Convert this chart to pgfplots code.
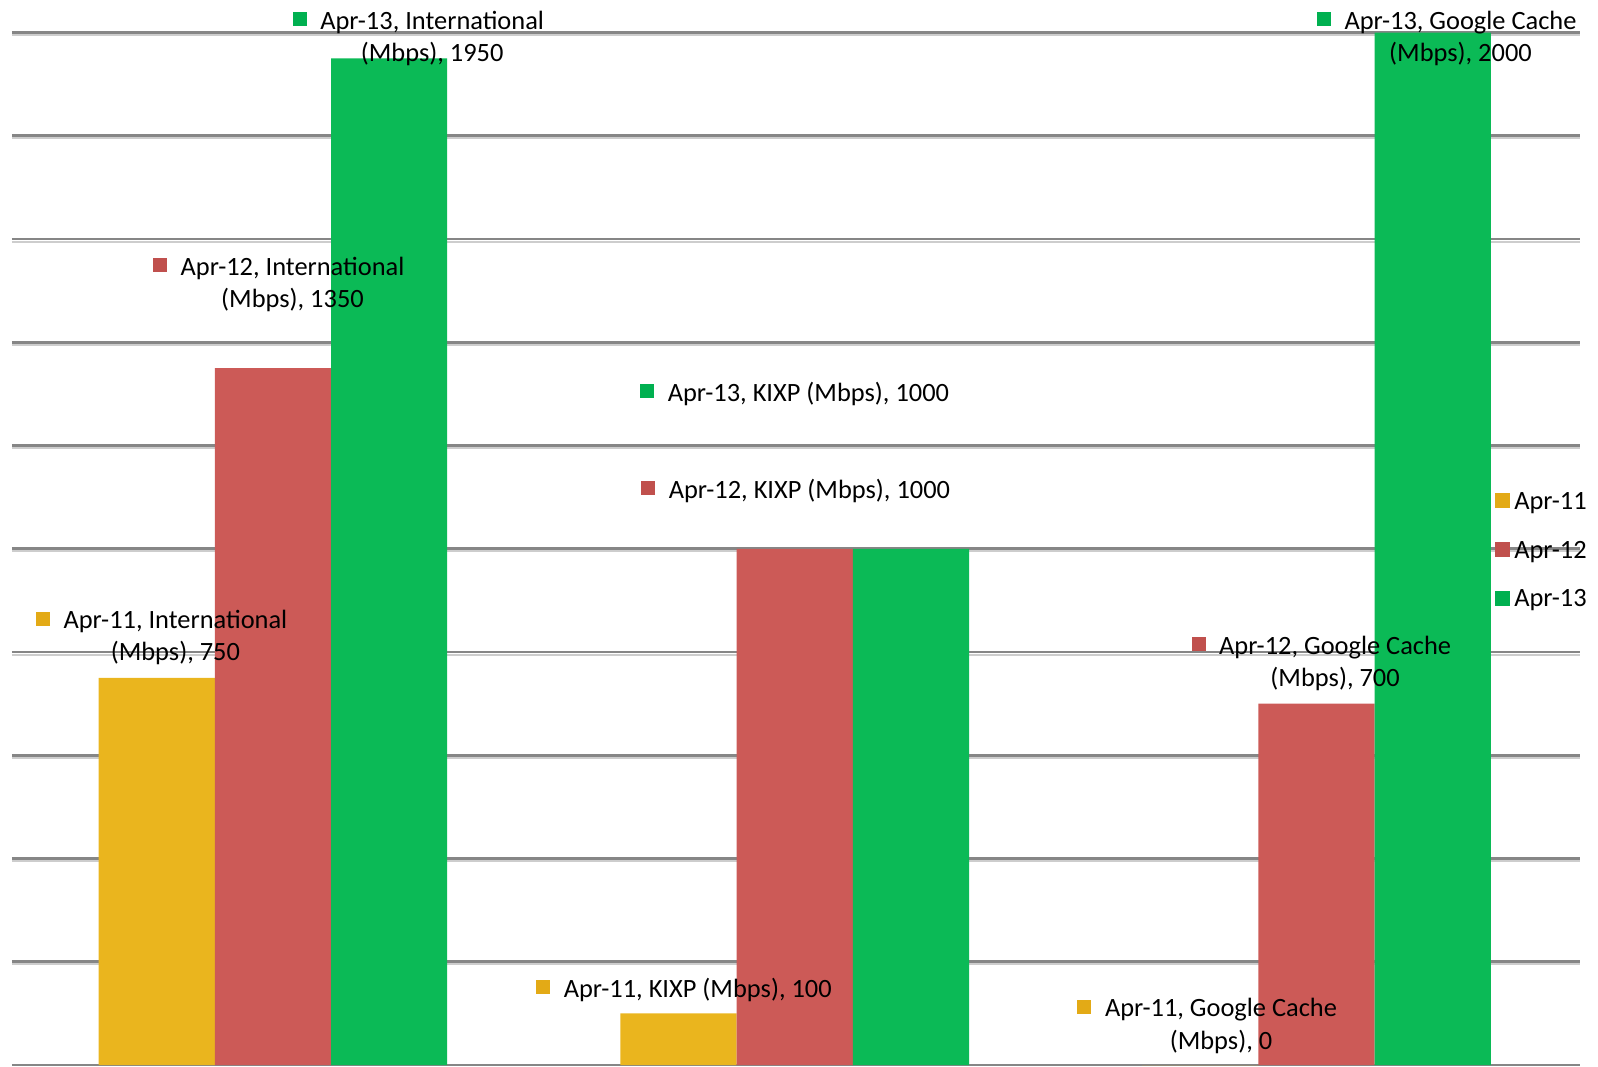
\documentclass[border=0pt]{standalone}
\usepackage{pgfplots}
\pgfplotsset{compat=1.18}
\usepackage{fontspec}
\setmainfont{Carlito}
\definecolor{bar11}{RGB}{234,181,30}
\definecolor{bar12}{RGB}{204,90,87}
\definecolor{bar13}{RGB}{11,186,86}
\definecolor{mk11}{RGB}{227,170,22}
\definecolor{mk12}{RGB}{192,80,77}
\definecolor{mk13}{RGB}{0,176,80}
\definecolor{gridc}{RGB}{134,134,134}
\definecolor{gridl}{RGB}{205,205,205}
\newcommand{\lab}[3]{\textcolor{#1}{\rule[1.5pt]{7pt}{7pt}}\hspace{6.8pt}\begin{tabular}[t]{@{}c@{}}#2\\#3\end{tabular}}
\newcommand{\labone}[2]{\textcolor{#1}{\rule[1.5pt]{7pt}{7pt}}\hspace{6.8pt}#2}
\begin{document}
\fontsize{13.2pt}{16pt}\selectfont
\begin{tikzpicture}
\path[use as bounding box] (-6pt,-0.5pt) rectangle (793pt,532.5pt);
\begin{axis}[
  scale only axis,
  width=784pt, height=516.2pt,
  at={(0,0)}, anchor=south west,
  xmin=-0.5, xmax=2.505,
  ymin=0, ymax=2000,
  ybar=0pt, bar width=0.2227,
  xtick=\empty,
  ytick={0,200,...,2000},
  yticklabels={},
  tick style={draw=none},
  axis line style={draw=none},
  ymajorgrids,
  major grid style={draw=gridc, line width=1.4pt,
     preaction={draw=gridl, line width=1pt, transform canvas={yshift=-1.3pt}}},
  clip=false,
  legend style={draw=none, fill=none, inner sep=0pt,
     at={(rel axis cs:0.9452,0.556)}, anchor=north west,
     row sep=12.4pt,
     nodes={inner sep=0pt, text height=9pt, text depth=3pt, anchor=west},
     /tikz/every odd column/.style={column sep=2.4pt},
     font=\fontsize{13.2pt}{16pt}\selectfont},
  legend cell align=left,
]
\addplot[fill=bar11, draw=none, legend image code/.code={\fill[mk11] (0pt,-2.3pt) rectangle (7.5pt,5.2pt);}]
  coordinates {(0,750) (1,100) (2,0)};
\addlegendentry{Apr-11}
\addplot[fill=bar12, draw=none, legend image code/.code={\fill[mk12] (0pt,-2.3pt) rectangle (7.5pt,5.2pt);}]
  coordinates {(0,1350) (1,1000) (2,700)};
\addlegendentry{Apr-12}
\addplot[fill=bar13, draw=none, legend image code/.code={\fill[mk13] (0pt,-2.3pt) rectangle (7.5pt,5.2pt);}]
  coordinates {(0,1950) (1,1000) (2,2000)};
\addlegendentry{Apr-13}

\node[anchor=base west, inner sep=0pt] at (axis cs:0.0372,2006) {\lab{mk13}{Apr-13, International}{(Mbps), 1950}};
\node[anchor=base west, inner sep=0pt] at (axis cs:-0.2304,1530) {\lab{mk12}{Apr-12, International}{(Mbps), 1350}};
\node[anchor=base west, inner sep=0pt] at (axis cs:-0.4548,845) {\lab{mk11}{Apr-11, International}{(Mbps), 750}};
\node[anchor=base west, inner sep=0pt] at (axis cs:0.7031,1286) {\labone{mk13}{Apr-13, KIXP (Mbps), 1000}};
\node[anchor=base west, inner sep=0pt] at (axis cs:0.7050,1098) {\labone{mk12}{Apr-12, KIXP (Mbps), 1000}};
\node[anchor=base west, inner sep=0pt] at (axis cs:0.5038,131) {\labone{mk11}{Apr-11, KIXP (Mbps), 100}};
\node[anchor=base west, inner sep=0pt] at (axis cs:2.0000,2006) {\lab{mk13}{Apr-13, Google Cache}{(Mbps), 2000}};
\node[anchor=base west, inner sep=0pt] at (axis cs:1.7597,796) {\lab{mk12}{Apr-12, Google Cache}{(Mbps), 700}};
\node[anchor=base west, inner sep=0pt] at (axis cs:1.5410,93) {\lab{mk11}{Apr-11, Google Cache}{(Mbps), 0}};
\end{axis}
\end{tikzpicture}
\end{document}
